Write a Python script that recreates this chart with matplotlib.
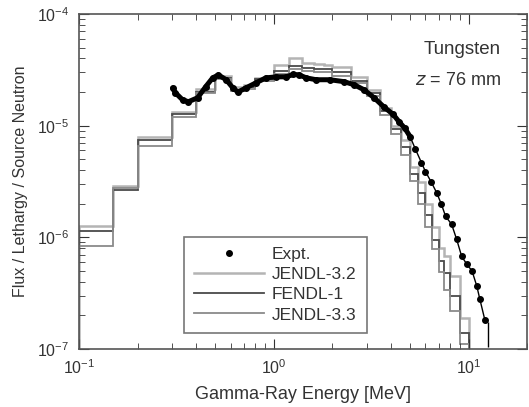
import matplotlib
matplotlib.use("Agg")
import matplotlib.pyplot as plt
from matplotlib.lines import Line2D
import numpy as np

plt.rcParams["font.family"] = ["Liberation Sans", "DejaVu Sans"]
plt.rcParams["mathtext.fontset"] = "custom"
plt.rcParams["mathtext.rm"] = "Liberation Sans"

# group boundaries of the calculated spectra [MeV]
edges = [0.1, 0.15, 0.2, 0.3, 0.4, 0.5, 0.6, 0.7, 0.8, 1.0, 1.2, 1.4, 1.6, 1.8,
         2.0, 2.5, 3.0, 3.5, 4.0, 4.5, 5.0, 5.5, 6.0, 6.5, 7.0, 7.5, 8.0, 9.0, 10.0]

jendl32 = [1.26e-6, 2.87e-6, 7.97e-6, 1.33e-5, 2.14e-5, 2.8e-5, 2.2e-5, 2.3e-5,
           2.7e-5, 3.5e-5, 4.05e-5, 3.65e-5, 3.6e-5, 3.5e-5, 3.36e-5, 2.75e-5,
           2.1e-5, 1.45e-5, 1.0e-5, 7.5e-6, 4.3e-6, 3.1e-6, 2.0e-6, 1.25e-6,
           8.0e-7, 6.8e-7, 4.5e-7, 1.9e-7]
fendl1 = [1.14e-6, 2.68e-6, 7.5e-6, 1.28e-5, 2.0e-5, 2.7e-5, 2.1e-5, 2.2e-5,
          2.6e-5, 3.1e-5, 3.4e-5, 3.3e-5, 3.25e-5, 3.2e-5, 3.05e-5, 2.5e-5,
          1.95e-5, 1.35e-5, 9.3e-6, 6.5e-6, 3.7e-6, 2.5e-6, 1.6e-6, 9.5e-7,
          6.2e-7, 4.8e-7, 3.0e-7, 1.4e-7]
jendl33 = [8.3e-7, 2.75e-6, 6.6e-6, 1.2e-5, 1.95e-5, 2.6e-5, 2.05e-5, 2.15e-5,
           2.5e-5, 2.9e-5, 3.2e-5, 3.1e-5, 3.05e-5, 3.0e-5, 2.8e-5, 2.4e-5,
           1.85e-5, 1.25e-5, 8.5e-6, 5.5e-6, 3.2e-6, 2.0e-6, 1.25e-6, 7.8e-7,
           4.9e-7, 3.4e-7, 2.2e-7, 1.1e-7]

# measured spectrum
expt_e = [0.303, 0.313, 0.341, 0.365, 0.407, 0.447, 0.486, 0.52, 0.57, 0.617,
          0.655, 0.72, 0.81, 0.91, 1.03, 1.16, 1.26, 1.35, 1.47, 1.65, 1.94,
          2.29, 2.58, 2.9, 3.27, 3.66, 4.1, 4.4, 4.7, 5.0, 5.32, 5.72, 6.0,
          6.44, 6.84, 7.25, 7.61, 8.17, 8.67, 9.2, 9.77, 10.4, 11.0, 11.4, 12.1]
expt_v = [2.18e-5, 1.97e-5, 1.7e-5, 1.64e-5, 1.78e-5, 2.23e-5, 2.68e-5, 2.85e-5,
          2.58e-5, 2.18e-5, 2.0e-5, 2.18e-5, 2.42e-5, 2.68e-5, 2.74e-5, 2.74e-5,
          2.88e-5, 2.85e-5, 2.68e-5, 2.58e-5, 2.58e-5, 2.48e-5, 2.33e-5, 2.1e-5,
          1.78e-5, 1.48e-5, 1.26e-5, 1.08e-5, 9.5e-6, 8.0e-6, 6.2e-6, 4.67e-6,
          3.88e-6, 3.1e-6, 2.52e-6, 1.97e-6, 1.54e-6, 1.31e-6, 9.6e-7, 6.76e-7,
          5.75e-7, 5.0e-7, 3.66e-7, 2.8e-7, 1.82e-7]
last_e = [12.6]
last_v = [1.45e-7]
last_err = [[0.4e-7], [0.3e-7]]

fig = plt.figure(figsize=(5.29, 4.07), dpi=100)
ax = fig.add_axes([0.149, 0.1425, 0.848, 0.823])

ax.stairs(jendl32, edges, baseline=1e-9, color="#b4b4b4", lw=1.8)
ax.stairs(fendl1, edges, baseline=1e-9, color="#4a4a4a", lw=1.3)
ax.stairs(jendl33, edges, baseline=1e-9, color="#8a8a8a", lw=1.3)

e = np.array(expt_e)
v = np.array(expt_v)
dense = e < 5.1
ax.plot(e[dense], v[dense], color="black", lw=3.6, solid_capstyle="round")
ax.plot(e, v, color="black", lw=1.0, marker="o", ms=4)
ax.errorbar(last_e, last_v, yerr=last_err, color="black", lw=1.0, fmt="none")

ax.set_xscale("log")
ax.set_yscale("log")
ax.set_xlim(0.1, 20)
ax.set_ylim(1e-7, 1e-4)
ax.tick_params(which="both", direction="in", top=True, right=True,
               labelsize=11.5, colors="#333333", pad=7)
ax.tick_params(which="major", length=7)
ax.tick_params(which="minor", length=4)
for s in ax.spines.values():
    s.set_color("#555555")
    s.set_linewidth(1.2)

ax.set_xlabel("Gamma-Ray Energy [MeV]", fontsize=13, color="#333333", labelpad=6)
ax.set_ylabel("Flux / Lethargy / Source Neutron", fontsize=11.5, color="#333333",
              labelpad=6)

ax.text(0.94, 0.895, "Tungsten", transform=ax.transAxes, ha="right", va="center",
        fontsize=13.5, color="#333333")
ax.text(0.94, 0.803, "$z$ = 76 mm", transform=ax.transAxes, ha="right",
        va="center", fontsize=13, color="#333333")

handles = [
    Line2D([], [], color="black", marker="o", ls="none", ms=4),
    Line2D([], [], color="#b4b4b4", lw=1.8),
    Line2D([], [], color="#4a4a4a", lw=1.3),
    Line2D([], [], color="#8a8a8a", lw=1.3),
]
leg = ax.legend(handles, ["Expt.", "JENDL-3.2", "FENDL-1", "JENDL-3.3"],
                loc="lower left", bbox_to_anchor=(0.234, 0.048), borderaxespad=0,
                fontsize=12.5, frameon=True, fancybox=False, handlelength=4.0,
                borderpad=0.6, labelspacing=0.28, handletextpad=0.45)
leg.get_frame().set_edgecolor("#555555")
leg.get_frame().set_linewidth(1.2)
for t in leg.get_texts():
    t.set_color("#333333")

fig.savefig("out.png", dpi=100)
